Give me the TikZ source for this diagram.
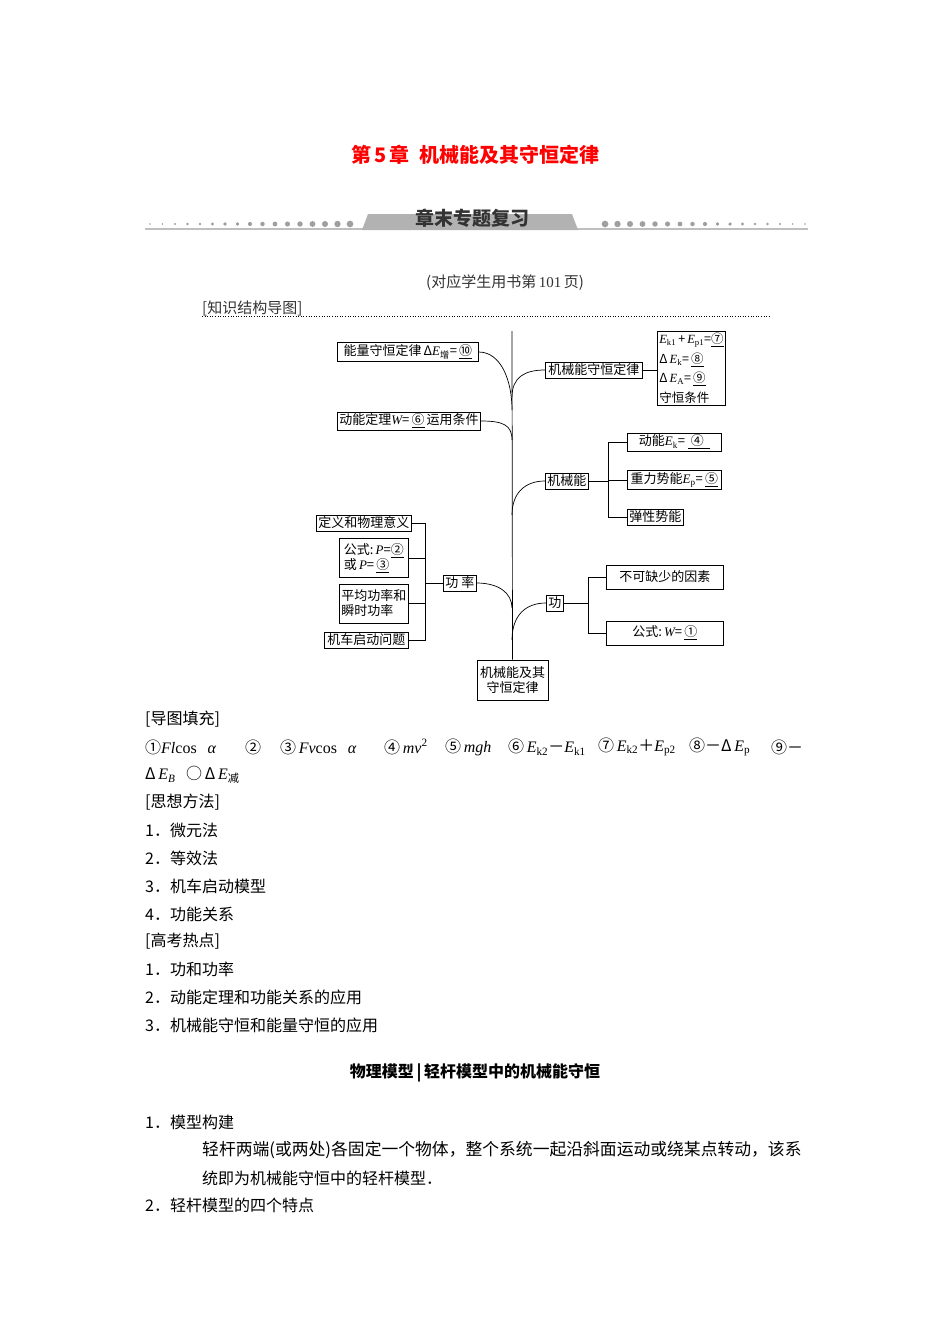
\documentclass[tikz,border=0pt]{standalone}
\usepackage{fontspec}
\setmainfont{Liberation Serif}
\newfontfamily\cjk{Noto Sans CJK SC}
\newcommand{\V}[1]{{\rmfamily\itshape #1}}
\newcommand{\R}[1]{{\rmfamily #1}}
\newcommand{\sub}[1]{\textsubscript{\rmfamily #1}}
\newcommand{\ul}[1]{\underline{#1}}
\begin{document}
\begin{tikzpicture}[x=1pt,y=-1pt,
  bx/.style={draw,line width=0.7pt,inner sep=2pt,font=\cjk\fontsize{13}{15}\selectfont,align=left},
  ln/.style={line width=0.7pt},
  body/.style={anchor=west,inner sep=0,font=\cjk\fontsize{16}{18}\selectfont}]
\useasboundingbox (0,0) rectangle (950,1344);
\fill[white] (0,0) rectangle (950,1344);
% title
\node[font=\cjk\bfseries\fontsize{20}{22}\selectfont,text=red] (title) at (475,155) {第\,5\,章\ \ 机械能及其守恒定律};
% banner
\draw[gray!50,line width=2pt] (145,229) -- (808,229);
\fill[gray!60] (362,230) -- (368,214) -- (572,214) -- (578,230) -- cycle;
\node[font=\cjk\bfseries\fontsize{19}{21}\selectfont,text=black!80] (banner) at (472,218) {章末专题复习};
\foreach \i in {0,...,16}{
  \fill[gray!75] (150+\i*12.5,224) circle ({0.8+\i*0.16});
  \fill[gray!75] (805-\i*12.5,224) circle ({0.8+\i*0.16});
}
\node[font=\cjk\fontsize{15}{17}\selectfont,text=black!80] (src) at (505,283) {(对应学生用书第\,\R{101}\,页)};
\node[body,font=\cjk\fontsize{15}{17}\selectfont,text=black!80] (kz) at (202,308) {[知识结构导图]};
\draw[dotted,line width=0.6pt] (202,316) -- (770,316);
% diagram
\coordinate (top) at (512,331);
\node[bx,minimum width=71,minimum height=40,align=center,inner sep=1pt] (root) at (512.5,680) {机械能及其\\守恒定律};
\draw[ln] (top) -- (root.north);
\node[bx,anchor=west,minimum width=141] (e1) at (337,352) {能量守恒定律\,Δ\V{E}\textsubscript{增}=\,\ul{⑩}};
\node[bx,anchor=west,minimum width=141] (e2) at (337,421) {动能定理\V{W}=\,\ul{⑥}\,运用条件};
\node[bx,anchor=west,minimum width=97] (jx) at (545,370) {机械能守恒定律};
\node[bx,anchor=north west,inner sep=2pt,minimum width=65,font=\cjk\fontsize{12.5}{19.5}\selectfont] (cons) at (657,331) {\V{E}\sub{k1}\,+\,\V{E}\sub{p1}=\ul{⑦}\\ Δ\,\V{E}\sub{k}=\,\ul{⑧}\\ Δ\,\V{E}\sub{A}=\,\ul{⑨}\\ 守恒条件};
\node[bx,anchor=west] (jxn) at (545,481) {机械能};
\node[bx,anchor=west,minimum width=94] (dn) at (627,442) {动能\V{E}\sub{k}=\ \ul{\ ④\ \ }};
\node[bx,anchor=west,minimum width=94] (zl) at (627,480) {重力势能\V{E}\sub{p}=\,\ul{⑤}};
\node[bx,anchor=west] (tx) at (627,517) {弹性势能};
\node[bx,anchor=west] (gl) at (443,583) {功\ 率};
\node[bx,anchor=west,minimum width=92] (dy) at (316,523) {定义和物理意义};
\node[bx,anchor=west,minimum width=69,minimum height=39] (gs) at (339,558) {公式:\,\V{P}=\ul{②}\\ 或\,\V{P}=\,\ul{③}};
\node[bx,anchor=west,minimum width=69,minimum height=39] (pj) at (339,603.5) {平均功率和\\ 瞬时功率};
\node[bx,anchor=west,minimum width=84] (jc) at (324,640) {机车启动问题};
\node[bx,anchor=west] (gong) at (546,603) {功};
\node[bx,anchor=west,minimum width=117,minimum height=24] (bk) at (606,577) {不可缺少的因素};
\node[bx,anchor=west,minimum width=117,minimum height=24] (gsw) at (606,633) {公式:\,\V{W}=\,\ul{①}};
% trunk points
\coordinate (t1) at (512,410);
\coordinate (t2) at (512,440);
\coordinate (t3) at (512,397);
\coordinate (t4) at (512,515);
\coordinate (t5) at (512,608);
\coordinate (t6) at (512,640);
\draw[ln] (e1.east) .. controls +(22,0) and +(0,-30) .. (t1);
\draw[ln] (e2.east) .. controls +(22,0) and +(0,-15) .. (t2);
\draw[ln] (t3) .. controls +(0,-20) and +(-20,0) .. (jx.west);
\draw[ln] (t4) .. controls +(0,-22) and +(-20,0) .. (jxn.west);
\draw[ln] (gl.east) .. controls +(22,0) and +(0,-15) .. (t5);
\draw[ln] (t6) .. controls +(0,-25) and +(-20,0) .. (gong.west);
\draw[ln] (jx.east) -- (cons.west |- jx.east);
% mech energy bracket
\draw[ln] (jxn.east) -- (608,481);
\draw[ln] (dn.west) -| (608,517) -- (tx.west);
\draw[ln] (608,480) -- (zl.west);
% power bracket
\draw[ln] (dy.east) -| (425,640) -- (jc.east);
\draw[ln] (gs.east) -- (425,558);
\draw[ln] (pj.east) -- (425,603.5);
\draw[ln] (425,583) -- (gl.west);
% work bracket
\draw[ln] (gong.east) -- (588,603);
\draw[ln] (bk.west) -| (588,633) -- (gsw.west);
% text below
\node[body] (h1) at (145,719) {[导图填充]};
\node[body] (f1a) at (145,747) {①\V{Fl}\R{cos}\ \ \ \V{α}};
\node[body] (f1b) at (245,747) {②};
\node[body] (f1c) at (280,747) {③\,\V{Fv}\R{cos}\ \ \ \V{α}};
\node[body] (f1d) at (384,747) {④\,\V{mv}\textsuperscript{\rmfamily 2}};
\node[body] (f1e) at (445,747) {⑤\,\V{mgh}};
\node[body] (f1f) at (508,747) {⑥\,\V{E}\sub{k2}－\V{E}\sub{k1}};
\node[body] (f1g) at (598,747) {⑦\,\V{E}\sub{k2}＋\V{E}\sub{p2}};
\node[body] (f1h) at (689,747) {⑧－Δ\,\V{E}\sub{p}};
\node[body] (f1i) at (771,747) {⑨－};
\node[body] (f2) at (145,775) {Δ\,\V{E}\textsubscript{\V{B}}\ \ \ ○\,Δ\,\V{E}\textsubscript{减}};
\node[body] (h2) at (145,802) {[思想方法]};
\node[body] (a1) at (145,830) {1．微元法};
\node[body] (a2) at (145,858) {2．等效法};
\node[body] (a3) at (145,886) {3．机车启动模型};
\node[body] (a4) at (145,914) {4．功能关系};
\node[body] (h3) at (145,941) {[高考热点]};
\node[body] (b1) at (145,969) {1．功和功率};
\node[body] (b2) at (145,997) {2．动能定理和功能关系的应用};
\node[body] (b3) at (145,1025) {3．机械能守恒和能量守恒的应用};
\node[font=\cjk\bfseries\fontsize{16}{18}\selectfont] (sec) at (475,1073) {物理模型\,|\,轻杆模型中的机械能守恒};
\node[body] (c1) at (145,1122) {1．模型构建};
\node[body,font=\cjk\fontsize{16.8}{18}\selectfont] (c2) at (202,1150) {轻杆两端(或两处)各固定一个物体，整个系统一起沿斜面运动或绕某点转动，该系};
\node[body] (c3) at (202,1178) {统即为机械能守恒中的轻杆模型．};
\node[body] (c4) at (145,1205) {2．轻杆模型的四个特点};
\end{tikzpicture}
\end{document}
